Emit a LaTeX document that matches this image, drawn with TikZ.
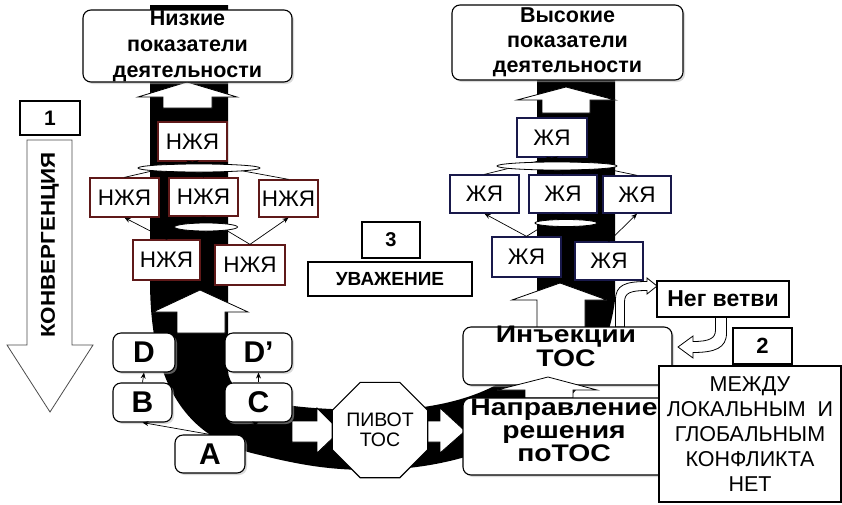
\documentclass[tikz,border=0pt]{standalone}
\usepackage{fontspec}
\setmainfont{Liberation Sans}
\usetikzlibrary{shapes.geometric,shadows,arrows.meta}
\newcommand{\stk}[1]{\begin{tabular}{@{}c@{}}#1\end{tabular}}
\begin{document}
\begin{tikzpicture}[x=1pt,y=-1pt,
  sz/.style 2 args={minimum width=#1pt, minimum height=#2pt},
  box/.style={draw, fill=white, line width=1.1pt, inner sep=0pt, align=center},
  rbox/.style={box, rounded corners=8pt, drop shadow={shadow xshift=2pt,shadow yshift=-2pt,fill=black!28}},
  nz/.style={box, line width=1.3pt, draw={rgb,255:red,95;green,25;blue,25}, font=\fontsize{22.5}{24}\selectfont},
  zh/.style={box, line width=1.3pt, draw={rgb,255:red,25;green,25;blue,75}, font=\fontsize{22.5}{24}\selectfont},
  con/.style={line width=0.7pt, -{Stealth[length=6pt,width=5pt]}},
  barrow/.style={fill=white, draw=black, line width=0.8pt, line join=miter},
  andell/.style={ellipse, draw, fill=white, line width=0.8pt, inner sep=0pt},
  lbl/.style={inner sep=0pt, align=center},
]
\useasboundingbox (0,0) rectangle (842,504);
\fill[white] (0,0) rectangle (842,504);

% black U band
\fill[black] (150,5) -- (150,280) .. controls (150,390) and (190,440) .. (260,455)
  .. controls (300,465) and (330,470) .. (370,470)
  .. controls (480,470) and (600,420) .. (615,300) -- (615,5) -- (537,5) -- (537,330)
  .. controls (537,380) and (460,410) .. (380,410)
  .. controls (280,410) and (228,400) .. (228,370) -- (228,5) -- cycle;

% convergence arrow
\draw[line width=0.8pt, draw=black!70, fill=white] (27,140) -- (72,140) -- (72,345) -- (93,345) -- (50,412) -- (7,345) -- (27,345) -- cycle;
\node[rotate=90, lbl] (conv) at (50,245) {\scalebox{1.12}[1]{\bfseries\fontsize{20}{20}\selectfont КОНВЕРГЕНЦИЯ}};
\node[box, sz={60}{34}, font=\bfseries\fontsize{21}{21}\selectfont] (one) at (50,118) {1};

% white block arrows on the band
\draw[barrow] (187,82) -- (237,97) -- (212,97) -- (212,108) -- (163,108) -- (163,97) -- (138,97) -- cycle;
\draw[barrow] (566,87) -- (615,100) -- (590,100) -- (590,113) -- (542,113) -- (542,100) -- (517,100) -- cycle;
\draw[barrow] (200,290) -- (248,312) -- (225,312) -- (225,333) -- (177,333) -- (177,312) -- (153,312) -- cycle;
\draw[barrow] (560,283) -- (607,300) -- (585,300) -- (585,328) -- (537,328) -- (537,300) -- (512,300) -- cycle;
\draw[barrow] (292,421) -- (317,421) -- (317,408) -- (340,431) -- (317,453) -- (317,442) -- (292,442) -- cycle;
\draw[barrow] (420,421) -- (440,421) -- (440,408) -- (465,431) -- (440,453) -- (440,442) -- (420,442) -- cycle;

% curved arrows for neg branches
\draw[barrow] (615.5,327) -- (615.5,300) .. controls (615.5,285) and (625,281.5) .. (647,281.5) -- (647,278) -- (657,286) -- (647,294) -- (647,290.5) .. controls (630,290.5) and (624.5,293) .. (624.5,302) -- (624.5,327) -- cycle;
\draw[barrow] (715.5,317) -- (726.5,317) -- (726.5,333) .. controls (726.5,348) and (715,352.5) .. (693,352.5) -- (693,358) -- (678,347) -- (693,336) -- (693,341.5) .. controls (710,341.5) and (715.5,338) .. (715.5,330) -- cycle;

% performance boxes
\node[rbox, sz={209}{72}, font=\bfseries\fontsize{21.5}{26}\selectfont] (low) at (187.5,46) {Низкие\\показатели\\деятельности};
\node[rbox, sz={231}{75}, font=\bfseries\fontsize{21.5}{25}\selectfont] (high) at (567.5,42.5) {Высокие\\показатели\\деятельности};

% left tree
\node[nz, sz={69}{39}] (n1) at (192.5,141.5) {НЖЯ};
\node[nz, sz={69}{39}] (n2) at (124.5,197.5) {НЖЯ};
\node[nz, sz={69}{38}] (n3) at (203.5,197) {НЖЯ};
\node[nz, sz={59}{37}] (n4) at (288.5,198.5) {НЖЯ};
\node[nz, sz={67}{40}] (n5) at (166.5,260) {НЖЯ};
\node[nz, sz={70}{40}] (n6) at (250,265) {НЖЯ};
\draw[con] (n5.north) -- (n2.south);
\draw[con] (n6.north) -- (n4.south);
\draw[con] (n5.north) -- (n3.south);
\draw[con] (n6.north) -- (n3.south);
\node[andell, minimum width=63pt, minimum height=8pt] (e1) at (206,227) {};
\draw[con] (n2.north) -- (n1.south);
\draw[con] (n3.north) -- (n1.south);
\draw[con] (n4.north) -- (n1.south);
\node[andell, minimum width=122pt, minimum height=8pt] (e2) at (199,168) {};

% right tree
\node[zh, sz={70}{39}] (z1) at (552,137.5) {ЖЯ};
\node[zh, sz={69}{38}] (z2) at (484.5,194) {ЖЯ};
\node[zh, sz={68}{38}] (z3) at (563,194) {ЖЯ};
\node[zh, sz={68}{37}] (z4) at (637,194.5) {ЖЯ};
\node[zh, sz={69}{40}] (z5) at (526.5,257) {ЖЯ};
\node[zh, sz={68}{38}] (z6) at (609,261) {ЖЯ};
\draw[con] (z5.north) -- (z2.south);
\draw[con] (z6.north) -- (z4.south);
\draw[con] (z5.north) -- (z3.south);
\draw[con] (z6.north) -- (z3.south);
\node[andell, minimum width=62pt, minimum height=7pt] (e3) at (566,223) {};
\draw[con] (z2.north) -- (z1.south);
\draw[con] (z3.north) -- (z1.south);
\draw[con] (z4.north) -- (z1.south);
\node[andell, minimum width=120pt, minimum height=8pt] (e4) at (557,166) {};

% D, D', B, C, A
\node[rbox, sz={62}{39}, font=\bfseries\fontsize{30}{30}\selectfont] (D) at (144,352.5) {D};
\node[rbox, sz={67}{39}, font=\bfseries\fontsize{30}{30}\selectfont] (Dp) at (258.5,352.5) {D’};
\node[rbox, sz={59}{39}, font=\bfseries\fontsize{30}{30}\selectfont] (B) at (142.5,402.5) {B};
\node[rbox, sz={67}{39}, font=\bfseries\fontsize{30}{30}\selectfont] (C) at (258.5,402.5) {C};
\node[rbox, sz={70}{38}, font=\bfseries\fontsize{30}{30}\selectfont] (A) at (210,454) {A};
\draw[con] (B.north) -- (D.south);
\draw[con] (C.north) -- (Dp.south);
\draw[con] (A.north) -- (B.south);
\draw[con] (A.north) -- (C.south);

% pivot
\node[regular polygon, regular polygon sides=8, draw, fill=white, line width=1.1pt, minimum size=86.6pt, inner sep=0pt, align=center, font=\fontsize{19.5}{20}\selectfont] (pivot) at (380,430) {ПИВОТ\\ТОС};

% TOC boxes
\node[rbox, sz={209}{58}] (inj) at (567.5,356) {};
\node[lbl] (injt) at (566,350) {\scalebox{1.18}[1]{\fontsize{24}{23}\bfseries\selectfont\stk{Инъекции\\ТОС}}};
\draw[barrow] (548,377) -- (597,390) -- (573,390) -- (573,398) -- (525,398) -- (525,390) -- (497,390) -- cycle;
\node[rbox, sz={205}{77}] (nap) at (565.5,436.5) {};
\node[lbl] (napt) at (564,434) {\scalebox{1.18}[1]{\fontsize{24}{22.5}\bfseries\selectfont\stk{Направление\\решения\\поТОС}}};

% side boxes
\node[box, sz={132}{36}, font=\bfseries\fontsize{23}{23}\selectfont] (neg) at (723,299) {Нег ветви};
\node[box, sz={59}{36}, font=\bfseries\fontsize{22}{22}\selectfont] (two) at (762.5,346) {2};
\node[box, sz={182}{136}, font=\fontsize{21.5}{25}\selectfont] (mezh) at (750,434) {МЕЖДУ\\ЛОКАЛЬНЫМ\ \ И\\ГЛОБАЛЬНЫМ\\КОНФЛИКТА\\НЕТ};
\node[box, sz={164}{34}, font=\bfseries\fontsize{19}{19}\selectfont] (resp) at (390,279) {УВАЖЕНИЕ};
\node[box, sz={58}{36}, font=\bfseries\fontsize{20}{20}\selectfont] (three) at (391,240) {3};
\end{tikzpicture}
\end{document}
